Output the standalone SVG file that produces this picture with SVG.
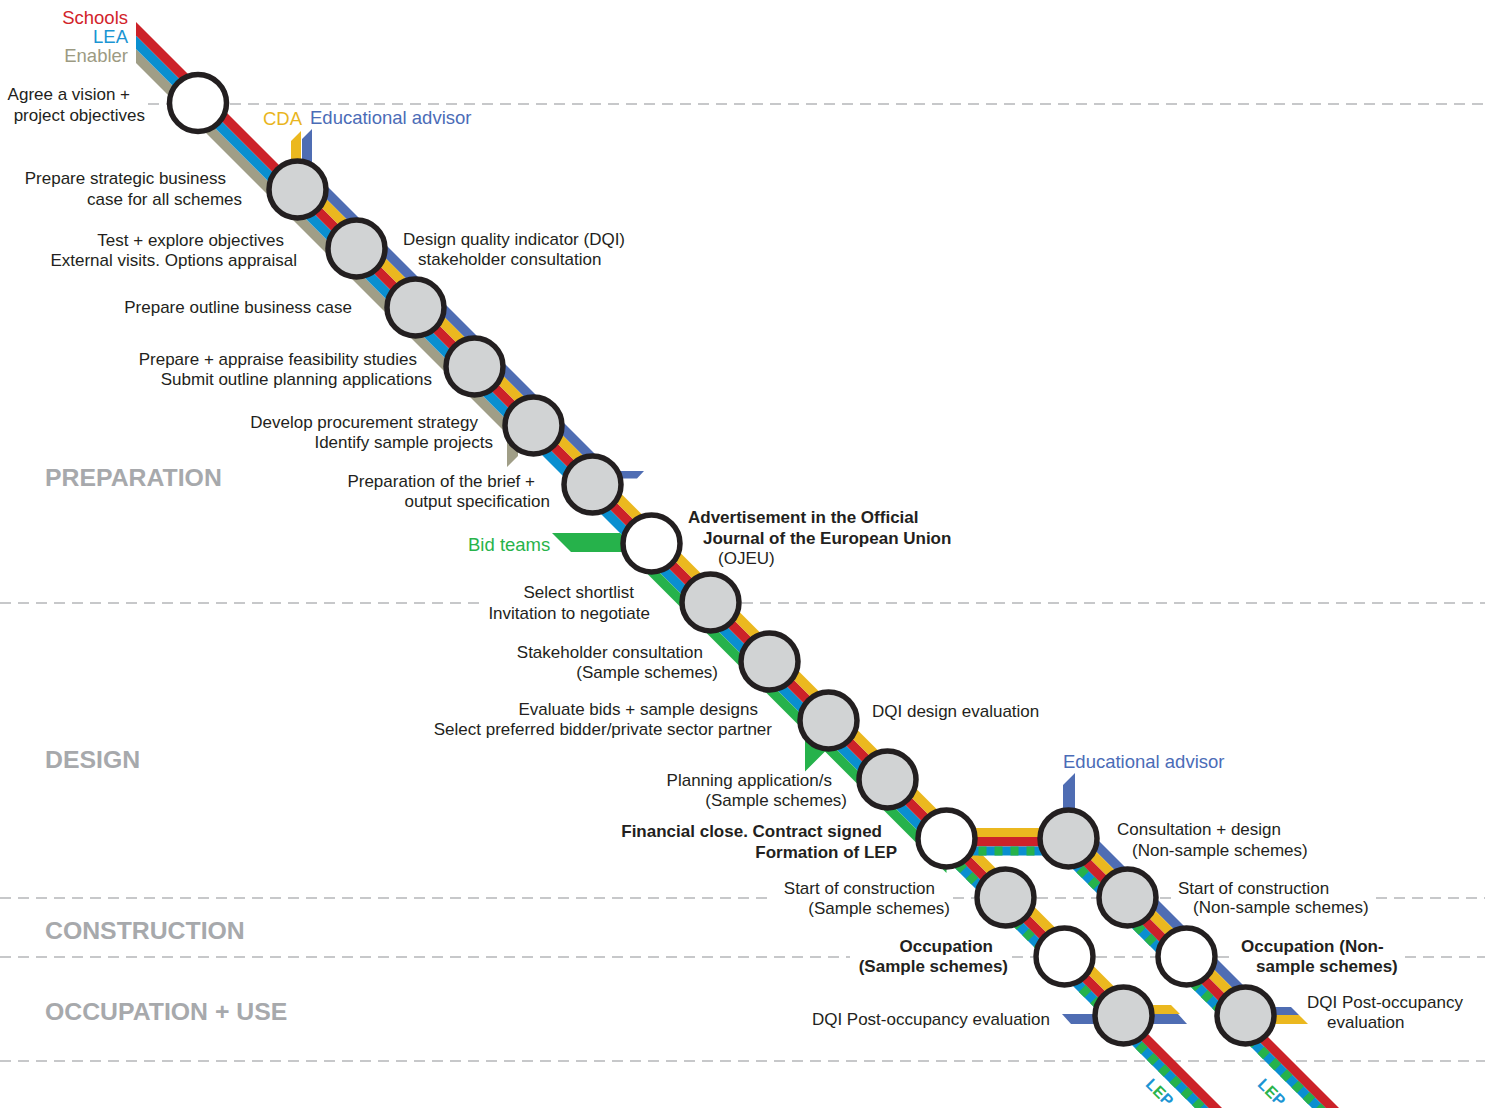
<svg xmlns="http://www.w3.org/2000/svg" width="1485" height="1108" viewBox="0 0 1485 1108">
<style>
.t{font-family:"Liberation Sans",Arial,Helvetica,sans-serif;font-size:17px;fill:#231f20}
.e{text-anchor:end}
.b{font-weight:bold}
.lg{font-family:"Liberation Sans",Arial,Helvetica,sans-serif;font-size:18.5px}
.ph{font-family:"Liberation Sans",Arial,Helvetica,sans-serif;font-size:24.8px;font-weight:bold;fill:#a7a9ac}
.st{fill:#d1d3d4;stroke:#231f20;stroke-width:5.5}
.wh{fill:#ffffff}
.dash{stroke:#c7c8ca;stroke-width:2;stroke-dasharray:11 7;fill:none}
.red{fill:#cc2229}.blue{fill:#0a8fd0}.tan{fill:#a09e87}.yel{fill:#ebb81f}.sla{fill:#4f6db3}.grn{fill:#26b24b}
.lepb{stroke:#0a8fd0;fill:none}
.lepg{stroke:#26b24b;fill:none;stroke-dasharray:8 8}
</style>
<rect width="1485" height="1108" fill="#ffffff"/>
<g id="grid">
<path class="dash" d="M148 104H168M230 104H1485"/>
<path class="dash" d="M0 603H480M742 603H1485"/>
<path class="dash" d="M0 898H772M953 898H974M1037 898H1097M1160 898H1172M1376 898H1485"/>
<path class="dash" d="M0 957H850M1012 957H1033M1096 957H1156M1218 957H1236M1405 957H1485"/>
<path class="dash" d="M0 1061H1485"/>
</g>
<g id="phases">
<text class="ph" x="45" y="486">PREPARATION</text>
<text class="ph" x="45" y="768">DESIGN</text>
<text class="ph" x="45" y="939">CONSTRUCTION</text>
<text class="ph" x="45" y="1020">OCCUPATION + USE</text>
</g>
<g id="legend">
<text class="lg e" x="128" y="24" fill="#d2232a">Schools</text>
<text class="lg e" x="128" y="43" fill="#1b95d3">LEA</text>
<text class="lg e" x="128" y="62" fill="#9c9a82">Enabler</text>
<text class="lg" x="263" y="125" fill="#e9b51e">CDA</text>
<text class="lg" x="310" y="124" fill="#4b6cb7">Educational advisor</text>
<text class="lg" x="468" y="551" fill="#28b34b">Bid teams</text>
<text class="lg" x="1063" y="768" fill="#4b6cb7">Educational advisor</text>
</g>
<g id="connectors">
<polygon class="tan" points="136,49 518,431 518,456 507,467 507,434 136,63"/>
<polygon class="blue" points="136,35.5 946.5,846 946.5,859.5 136,49"/>
<polygon class="red" points="136,22 1250,1136 1250,1149.5 136,35.5"/>
<polygon class="yel" points="291,141 301,131 301,173.5 1132.5,1005 1171,1005 1180,1014 1128,1014 291,177"/>
<polygon class="sla" points="302,139 312,129 312,171 612,471 644,471 637,478.5 606,478.5 302,174.5"/>
<polygon class="grn" points="552,533 620,533 946.5,859.5 946.5,873 825,751.5 805,771.5 805,731.5 625.5,552 571,552"/>
<line class="lepb" x1="946.5" y1="852.75" x2="1260" y2="1166.25" stroke-width="9.6"/>
<line class="lepg" x1="946.5" y1="852.75" x2="1260" y2="1166.25" stroke-width="9.6"/>
<polygon class="sla" points="1062,1014 1178,1014 1187,1024 1071,1024"/>
<rect class="yel" x="946.5" y="828" width="122" height="9"/>
<rect class="red" x="946.5" y="837" width="122" height="9.5"/>
<line class="lepb" x1="946.5" y1="851" x2="1068.5" y2="851" stroke-width="9"/>
<line class="lepg" x1="946.5" y1="851" x2="1068.5" y2="851" stroke-width="9"/>
<polygon class="sla" points="1063,785 1075,773 1075,817 1265,1007 1291,1007 1299,1015 1259.5,1015 1063,818.5"/>
<polygon class="yel" points="1068.5,824 1259.5,1015 1299,1015 1308,1024 1255,1024 1068.5,837.5"/>
<polygon class="red" points="1068.5,837.5 1400,1169 1400,1182.5 1068.5,851"/>
<line class="lepb" x1="1068.5" y1="857.75" x2="1400" y2="1189.25" stroke-width="9.6"/>
<line class="lepg" x1="1068.5" y1="857.75" x2="1400" y2="1189.25" stroke-width="9.6"/>
<text transform="translate(1160,1092) rotate(45)" y="6" text-anchor="middle" font-family="Liberation Sans, Arial, sans-serif" font-size="16" font-weight="bold"><tspan fill="#1b95d3">L</tspan><tspan fill="#28b34b">E</tspan><tspan fill="#1b95d3">P</tspan></text>
<text transform="translate(1272,1092) rotate(45)" y="6" text-anchor="middle" font-family="Liberation Sans, Arial, sans-serif" font-size="16" font-weight="bold"><tspan fill="#1b95d3">L</tspan><tspan fill="#28b34b">E</tspan><tspan fill="#1b95d3">P</tspan></text>
</g>
<g id="s1"><circle class="st wh" cx="198" cy="103" r="28.5"/>
<text class="t e" x="130" y="100">Agree a vision +</text><text class="t e" x="145" y="121">project objectives</text></g>
<g id="s2"><circle class="st" cx="297.5" cy="189.5" r="28.5"/>
<text class="t e" x="226" y="184">Prepare strategic business</text><text class="t e" x="242" y="205">case for all schemes</text></g>
<g id="s3"><circle class="st" cx="356.5" cy="248.5" r="28.5"/>
<text class="t e" x="284" y="246">Test + explore objectives</text><text class="t e" x="297" y="266">External visits. Options appraisal</text>
<text class="t" x="403" y="245">Design quality indicator (DQI)</text><text class="t" x="418" y="265">stakeholder consultation</text></g>
<g id="s4"><circle class="st" cx="415.5" cy="307.5" r="28.5"/>
<text class="t e" x="352" y="313">Prepare outline business case</text></g>
<g id="s5"><circle class="st" cx="474.5" cy="366.5" r="28.5"/>
<text class="t e" x="417" y="365">Prepare + appraise feasibility studies</text><text class="t e" x="432" y="385">Submit outline planning applications</text></g>
<g id="s6"><circle class="st" cx="533.5" cy="425.5" r="28.5"/>
<text class="t e" x="478" y="428">Develop procurement strategy</text><text class="t e" x="493" y="448">Identify sample projects</text></g>
<g id="s7"><circle class="st" cx="592.5" cy="484.5" r="28.5"/>
<text class="t e" x="535" y="487">Preparation of the brief +</text><text class="t e" x="550" y="507">output specification</text></g>
<g id="s8"><circle class="st wh" cx="651.5" cy="543.5" r="28.5"/>
<text class="t b" x="688" y="523">Advertisement in the Official</text><text class="t b" x="703" y="544">Journal of the European Union</text><text class="t" x="718" y="564">(OJEU)</text></g>
<g id="s9"><circle class="st" cx="710.5" cy="602.5" r="28.5"/>
<text class="t e" x="634" y="598">Select shortlist</text><text class="t e" x="650" y="619">Invitation to negotiate</text></g>
<g id="s10"><circle class="st" cx="769.5" cy="661.5" r="28.5"/>
<text class="t e" x="703" y="658">Stakeholder consultation</text><text class="t e" x="718" y="678">(Sample schemes)</text></g>
<g id="s11"><circle class="st" cx="828.5" cy="720.5" r="28.5"/>
<text class="t e" x="758" y="715">Evaluate bids + sample designs</text><text class="t e" x="772" y="735">Select preferred bidder/private sector partner</text>
<text class="t" x="872" y="717">DQI design evaluation</text></g>
<g id="s12"><circle class="st" cx="887.5" cy="779.5" r="28.5"/>
<text class="t e" x="832" y="786">Planning application/s</text><text class="t e" x="847" y="806">(Sample schemes)</text></g>
<g id="s13"><circle class="st wh" cx="946.5" cy="838.5" r="28.5"/>
<text class="t b e" x="882" y="837">Financial close. Contract signed</text><text class="t b e" x="897" y="858">Formation of LEP</text></g>
<g id="s14"><circle class="st" cx="1005.5" cy="897.5" r="28.5"/>
<text class="t e" x="935" y="894">Start of construction</text><text class="t e" x="950" y="914">(Sample schemes)</text></g>
<g id="s15"><circle class="st wh" cx="1064.5" cy="956.5" r="28.5"/>
<text class="t b e" x="993" y="952">Occupation</text><text class="t b e" x="1008" y="972">(Sample schemes)</text></g>
<g id="s16"><circle class="st" cx="1123.5" cy="1015.5" r="28.5"/>
<text class="t e" x="1050" y="1025">DQI Post-occupancy evaluation</text></g>
<g id="b1"><circle class="st" cx="1068.5" cy="838.5" r="28.5"/>
<text class="t" x="1117" y="835">Consultation + design</text><text class="t" x="1132" y="856">(Non-sample schemes)</text></g>
<g id="b2"><circle class="st" cx="1127.5" cy="897.5" r="28.5"/>
<text class="t" x="1178" y="894">Start of construction</text><text class="t" x="1193" y="913">(Non-sample schemes)</text></g>
<g id="b3"><circle class="st wh" cx="1186.5" cy="956.5" r="28.5"/>
<text class="t b" x="1241" y="952">Occupation (Non-</text><text class="t b" x="1256" y="972">sample schemes)</text></g>
<g id="b4"><circle class="st" cx="1245.5" cy="1015.5" r="28.5"/>
<text class="t" x="1307" y="1008">DQI Post-occupancy</text><text class="t" x="1327" y="1028">evaluation</text></g>
</svg>
